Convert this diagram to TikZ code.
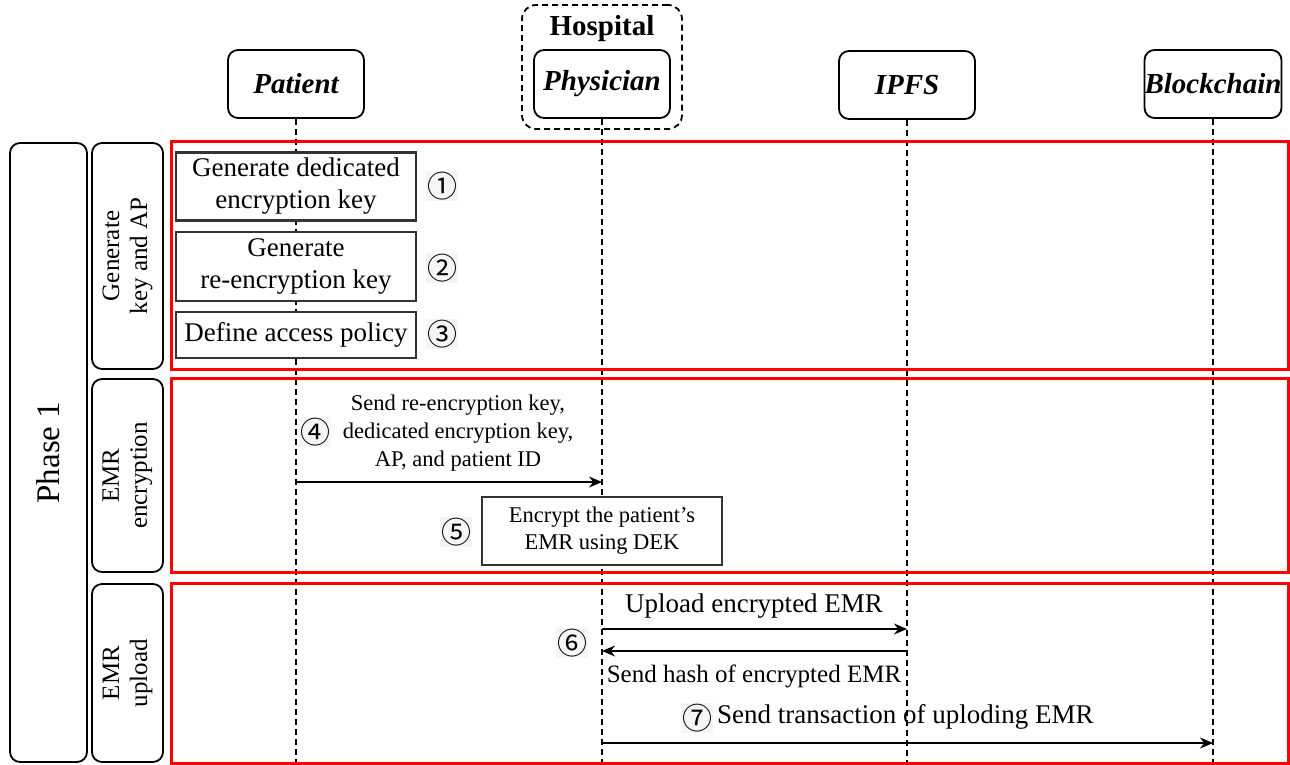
\documentclass[tikz,border=0pt]{standalone}
\usepackage{fontspec}
\setmainfont{Liberation Serif}
\newfontfamily\circfont{Noto Sans CJK SC}
\usetikzlibrary{arrows.meta}
\begin{document}
\begin{tikzpicture}[x=1pt,y=-1pt,
  hdr/.style={draw, rounded corners=10pt, line width=1.8pt, minimum width=136pt, minimum height=68pt, font=\fontsize{29}{32}\selectfont\bfseries\itshape, inner sep=0pt},
  lane/.style={draw, rounded corners=10pt, line width=1.8pt, rotate=90, inner sep=0pt, align=center, fill=white},
  stepbox/.style={draw=black!80, line width=2.2pt, fill=white, minimum width=240pt, align=center, inner sep=0pt, font=\fontsize{27}{32}\selectfont},
  num/.style={font=\circfont\fontsize{30}{32}\selectfont, fill=black!4, inner sep=1pt},
  life/.style={line width=1.8pt, dash pattern=on 6pt off 4pt},
  msg/.style={line width=1.8pt, -{Stealth[length=13pt,width=11pt]}},
  phase/.style={draw=red, line width=3pt},
  lbl/.style={font=\fontsize{27}{30}\selectfont, inner sep=1pt},
]
\useasboundingbox (0,0) rectangle (1290,764);

% hospital group
\node[draw, line width=1.8pt, dash pattern=on 6pt off 4pt, rounded corners=14pt, minimum width=160pt, minimum height=124pt] (hosp) at (602,67) {};
\node[font=\fontsize{29}{32}\selectfont\bfseries] (hosplbl) at (602,29) {Hospital};

% headers
\node[hdr] (pat) at (296,84) {Patient};
\node[hdr] (phy) at (602,84) {Physician};
\node[hdr] (ipfs) at (907,85) {IPFS};
\node[hdr] (bc) at (1213,84) {Blockchain};

% lifeline ends
\coordinate (patE) at (296,764);
\coordinate (phyE) at (602,764);
\coordinate (ipfsE) at (907,764);
\coordinate (bcE) at (1213,764);
\draw[life] (pat.south) -- (patE);
\draw[life] (phy.south) -- (phyE);
\draw[life] (ipfs.south) -- (ipfsE);
\draw[life] (bc.south) -- (bcE);

% phase frames
\draw[phase] (171.5,141) rectangle (1288,369);
\draw[phase] (171.5,378) rectangle (1288,572);
\draw[phase] (171.5,583) rectangle (1288,763);

% left lanes
\node[lane, minimum width=619pt, minimum height=77pt, font=\fontsize{33}{36}\selectfont] (ph1) at (48.5,452.5) {Phase 1};
\node[lane, minimum width=226pt, minimum height=71pt, font=\fontsize{25}{28}\selectfont] (lgen) at (127.5,256) {Generate\\key and AP};
\node[lane, minimum width=193pt, minimum height=71pt, font=\fontsize{25}{28}\selectfont] (lenc) at (127.5,475.5) {EMR\\encryption};
\node[lane, minimum width=178pt, minimum height=71pt, font=\fontsize{25}{28}\selectfont] (lup) at (127.5,673) {EMR\\upload};

% step boxes
\node[stepbox, minimum height=68pt] (s1) at (296,186.5) {Generate dedicated\\encryption key};
\node[stepbox, minimum height=69pt] (s2) at (296,266.5) {Generate\\re-encryption key};
\node[stepbox, minimum height=46pt] (s3) at (296,335) {Define access policy};
\node[num] (n1) at (442,186) {①};
\node[num] (n2) at (442,268) {②};
\node[num] (n3) at (442,334) {③};

% step 4
\coordinate (p4) at (296,482);
\coordinate (h4) at (602,482);
\draw[msg] (p4) -- (h4);
\node[num] (n4) at (315,432) {④};
\node[align=center, font=\fontsize{22.5}{28}\selectfont] (m4) at (458,433) {Send re-encryption key,\\dedicated encryption key,\\AP, and patient ID};

% step 5
\node[stepbox, minimum height=68pt, font=\fontsize{22.5}{27}\selectfont] (s5) at (602,531) {Encrypt the patient's\\EMR using DEK};
\node[num] (n5) at (456,532) {⑤};

% step 6
\coordinate (h6a) at (602,629);
\coordinate (i6a) at (907,629);
\coordinate (i6b) at (907,651);
\coordinate (h6b) at (602,651);
\draw[msg] (h6a) -- (i6a);
\draw[msg] (i6b) -- (h6b);
\node[lbl] (m6a) at (754,606) {Upload encrypted EMR};
\node[lbl, font=\fontsize{25}{30}\selectfont] (m6b) at (754,676) {Send hash of encrypted EMR};
\node[num] (n6) at (572,643) {⑥};

% step 7
\coordinate (h7) at (602,743);
\coordinate (b7) at (1213,743);
\draw[msg] (h7) -- (b7);
\node[num] (n7) at (697,718) {⑦};
\node[lbl, anchor=west] (m7) at (716,717) {Send transaction of uploding EMR};
\end{tikzpicture}
\end{document}
